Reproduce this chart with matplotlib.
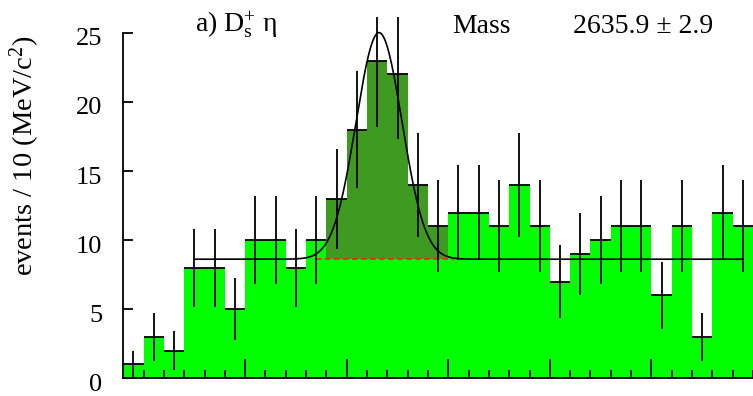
import numpy as np
import matplotlib
matplotlib.use("Agg")
import matplotlib.pyplot as plt
import matplotlib.transforms as mtransforms

plt.rcParams['font.family'] = ['Liberation Serif', 'DejaVu Serif']
plt.rcParams['mathtext.fontset'] = 'custom'
plt.rcParams['mathtext.rm'] = 'Liberation Serif'
plt.rcParams['mathtext.it'] = 'Liberation Serif:italic'

# histogram: D_s+ eta invariant mass, 10 MeV bins
bin_start = 2510
bin_width = 10
counts = [1, 3, 2, 8, 8, 5, 10, 10, 8, 10, 13, 18, 23, 22, 14, 11,
          12, 12, 11, 14, 11, 7, 9, 10, 11, 11, 6, 11, 3, 12, 11]
signal_bins = [10, 11, 12, 13, 14, 15]

# fit: flat background + gaussian
bkg_level = 8.62
peak_mass = 2635.9
peak_sigma = 11.3
peak_amp = 16.4
fit_lo, fit_hi = 2545, 2815

counts = np.array(counts)
edges = bin_start + bin_width * np.arange(len(counts) + 1)
centers = edges[:-1] + bin_width / 2

fig = plt.figure(figsize=(7.53, 3.96), dpi=100)
ax = fig.add_axes([123.3 / 753, 1 - 378.3 / 396, 1 - 123.3 / 753, (378.3 - 17) / 396])

ax.bar(edges[:-1], counts, width=bin_width, align='edge', color='#00ff00', linewidth=0)
sig = np.array(signal_bins)
ax.bar(edges[sig], counts[sig] - bkg_level, bottom=bkg_level, width=bin_width,
       align='edge', color='#3f9a22', linewidth=0)
ax.plot([2605, 2673], [bkg_level, bkg_level], color='#ff2020', lw=1.3, ls=(0, (3, 2)))

ax.errorbar(centers, counts, yerr=np.sqrt(counts), xerr=bin_width / 2, fmt='none',
            ecolor='black', elinewidth=1.3, capsize=0)

xf = np.linspace(fit_lo, fit_hi, 800)
yf = bkg_level + peak_amp * np.exp(-0.5 * ((xf - peak_mass) / peak_sigma) ** 2)
ax.plot(xf, yf, color='black', lw=1.2)

ax.set_xlim(bin_start, 2818.7)
ax.set_ylim(0, 26.15)
ax.spines['top'].set_visible(False)
ax.spines['right'].set_visible(False)
ax.spines['left'].set_bounds(0, 25)
ax.spines['left'].set_linewidth(1.3)
ax.spines['bottom'].set_linewidth(1.3)

ax.set_yticks([0, 5, 10, 15, 20, 25])
ax.set_xticks(np.arange(2570, 2819, 50))
ax.set_xticks(edges[1:], minor=True)
ax.tick_params(axis='y', direction='in', length=7, width=1.3, labelsize=19, pad=15)
ax.tick_params(axis='x', which='major', direction='in', length=13.5, width=1.3, labelbottom=False)
ax.tick_params(axis='x', which='minor', direction='in', length=6, width=1.3)
offset = mtransforms.ScaledTranslation(0, -4 / 100, fig.dpi_scale_trans)
for lab in ax.get_yticklabels():
    lab.set_transform(lab.get_transform() + offset)

fig.text(25 / 753, 1 - 156 / 396, r'events / 10 (MeV/c$^{2}$)', rotation=90,
         ha='center', va='center', fontsize=20.5)
fig.text(195 / 753, 1 - 32 / 396, r'a) $\mathrm{D}_{\mathrm{s}}^{+}$ η', fontsize=20, va='baseline')
fig.text(452 / 753, 1 - 33 / 396, 'Mass', fontsize=20, va='baseline')
fig.text(573 / 753, 1 - 33 / 396, '2635.9 ± 2.9', fontsize=20, va='baseline')

fig.savefig('out.png', dpi=100)
